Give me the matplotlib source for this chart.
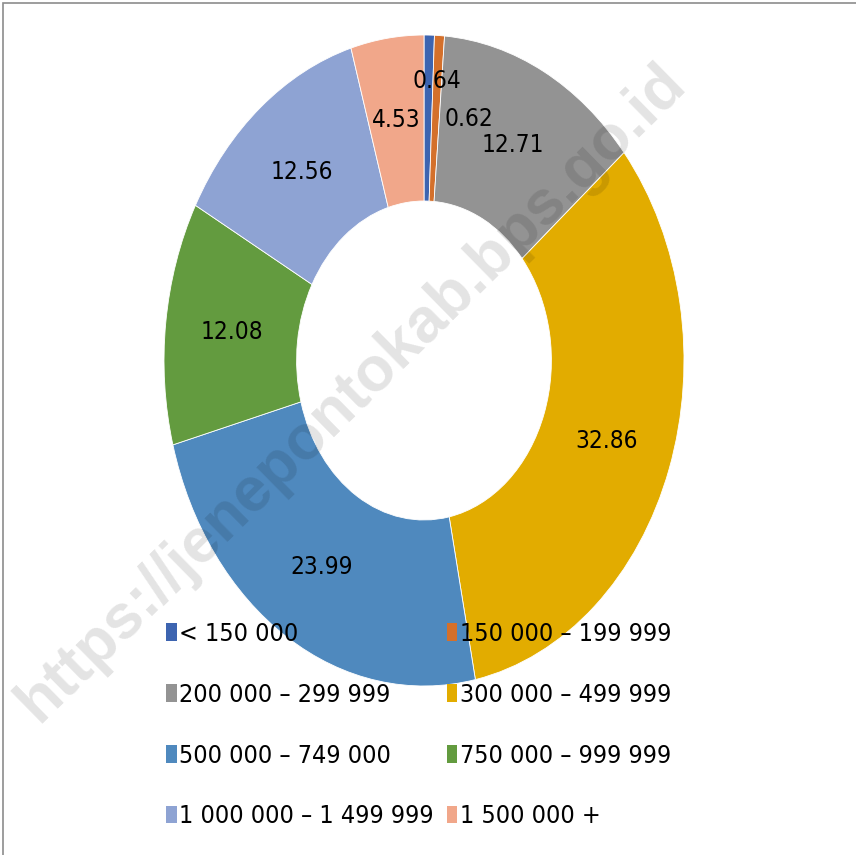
import matplotlib
matplotlib.use("Agg")
import numpy as np
import matplotlib.pyplot as plt
from matplotlib.patches import Rectangle

# expenditure-per-capita classes (Rupiah) and share of population (%)
classes = ["< 150 000", "150 000 – 199 999", "200 000 – 299 999",
           "300 000 – 499 999", "500 000 – 749 000", "750 000 – 999 999",
           "1 000 000 – 1 499 999", "1 500 000 +"]
shares = [0.64, 0.62, 12.71, 32.86, 23.99, 12.08, 12.56, 4.53]
colors = ["#3D64B0", "#D4702B", "#939393", "#E2AC00",
          "#4F89BE", "#639B3F", "#8EA3D3", "#F1A78A"]

FONT = ["Liberation Sans Narrow", "DejaVu Sans"]
STRETCH = "condensed"

fig = plt.figure(figsize=(8.56, 8.55), dpi=100)
fig.patch.set_facecolor("white")

# donut is stretched vertically, so axes box = ellipse bounding box
W, H = 856, 855
left, right, top, bottom = 164, 684, 35, 686
ax = fig.add_axes([left / W, 1 - bottom / H, (right - left) / W, (bottom - top) / H])

inner = 0.49
wedges, _ = ax.pie(shares, colors=colors, startangle=90, counterclock=False,
                   radius=1.0, wedgeprops=dict(width=1 - inner, edgecolor="white", linewidth=0.6))
ax.set_aspect("auto")
ax.set_xlim(-1, 1)
ax.set_ylim(-1, 1)
ax.axis("off")

# the two thin slices get their labels nudged apart (radius, angle shift)
label_tweak = {0: (0.86, -2.2), 1: (0.76, -9.6)}
mid_r = (1 + inner) / 2
for i, (w, v) in enumerate(zip(wedges, shares)):
    ang = (w.theta1 + w.theta2) / 2
    r, dang = label_tweak.get(i, (mid_r, 0.0))
    a = np.deg2rad(ang + dang)
    ax.text(r * np.cos(a), r * np.sin(a), f"{v:.2f}", ha="center", va="center",
            fontsize=17.5, family=FONT, stretch=STRETCH, color="black")

# legend is filled row by row: reorder so matplotlib's column fill matches
order = [0, 2, 4, 6, 1, 3, 5, 7]
leg = fig.legend([wedges[i] for i in order], [classes[i] for i in order],
                 loc="upper left", ncol=2,
                 bbox_to_anchor=(166 / W, 1 - 622 / H), frameon=False,
                 prop=dict(family=FONT, size=18, stretch=STRETCH),
                 handlelength=0.42, handleheight=0.72,
                 handletextpad=0.1, columnspacing=0.52, labelspacing=1.47,
                 borderaxespad=0, borderpad=0)
for h in leg.legend_handles:
    h.set_linewidth(0)

# watermark across the chart
fig.text(352 / W, 1 - 393 / H, "https://jenepontokab.bps.go.id", rotation=44.5,
         rotation_mode="anchor", ha="center", va="center", fontsize=45,
         fontweight="bold", family=["Liberation Sans", "DejaVu Sans"],
         color="black", alpha=0.11, zorder=10)

# outer chart-area frame (only top/left edges fall inside the image)
fig.add_artist(Rectangle((3.5 / W, -0.1), 1.2, 1.1 - 3.5 / H, transform=fig.transFigure,
                         fill=False, edgecolor="#8C8C8C", linewidth=1.2))

fig.savefig("out.png", dpi=100)
